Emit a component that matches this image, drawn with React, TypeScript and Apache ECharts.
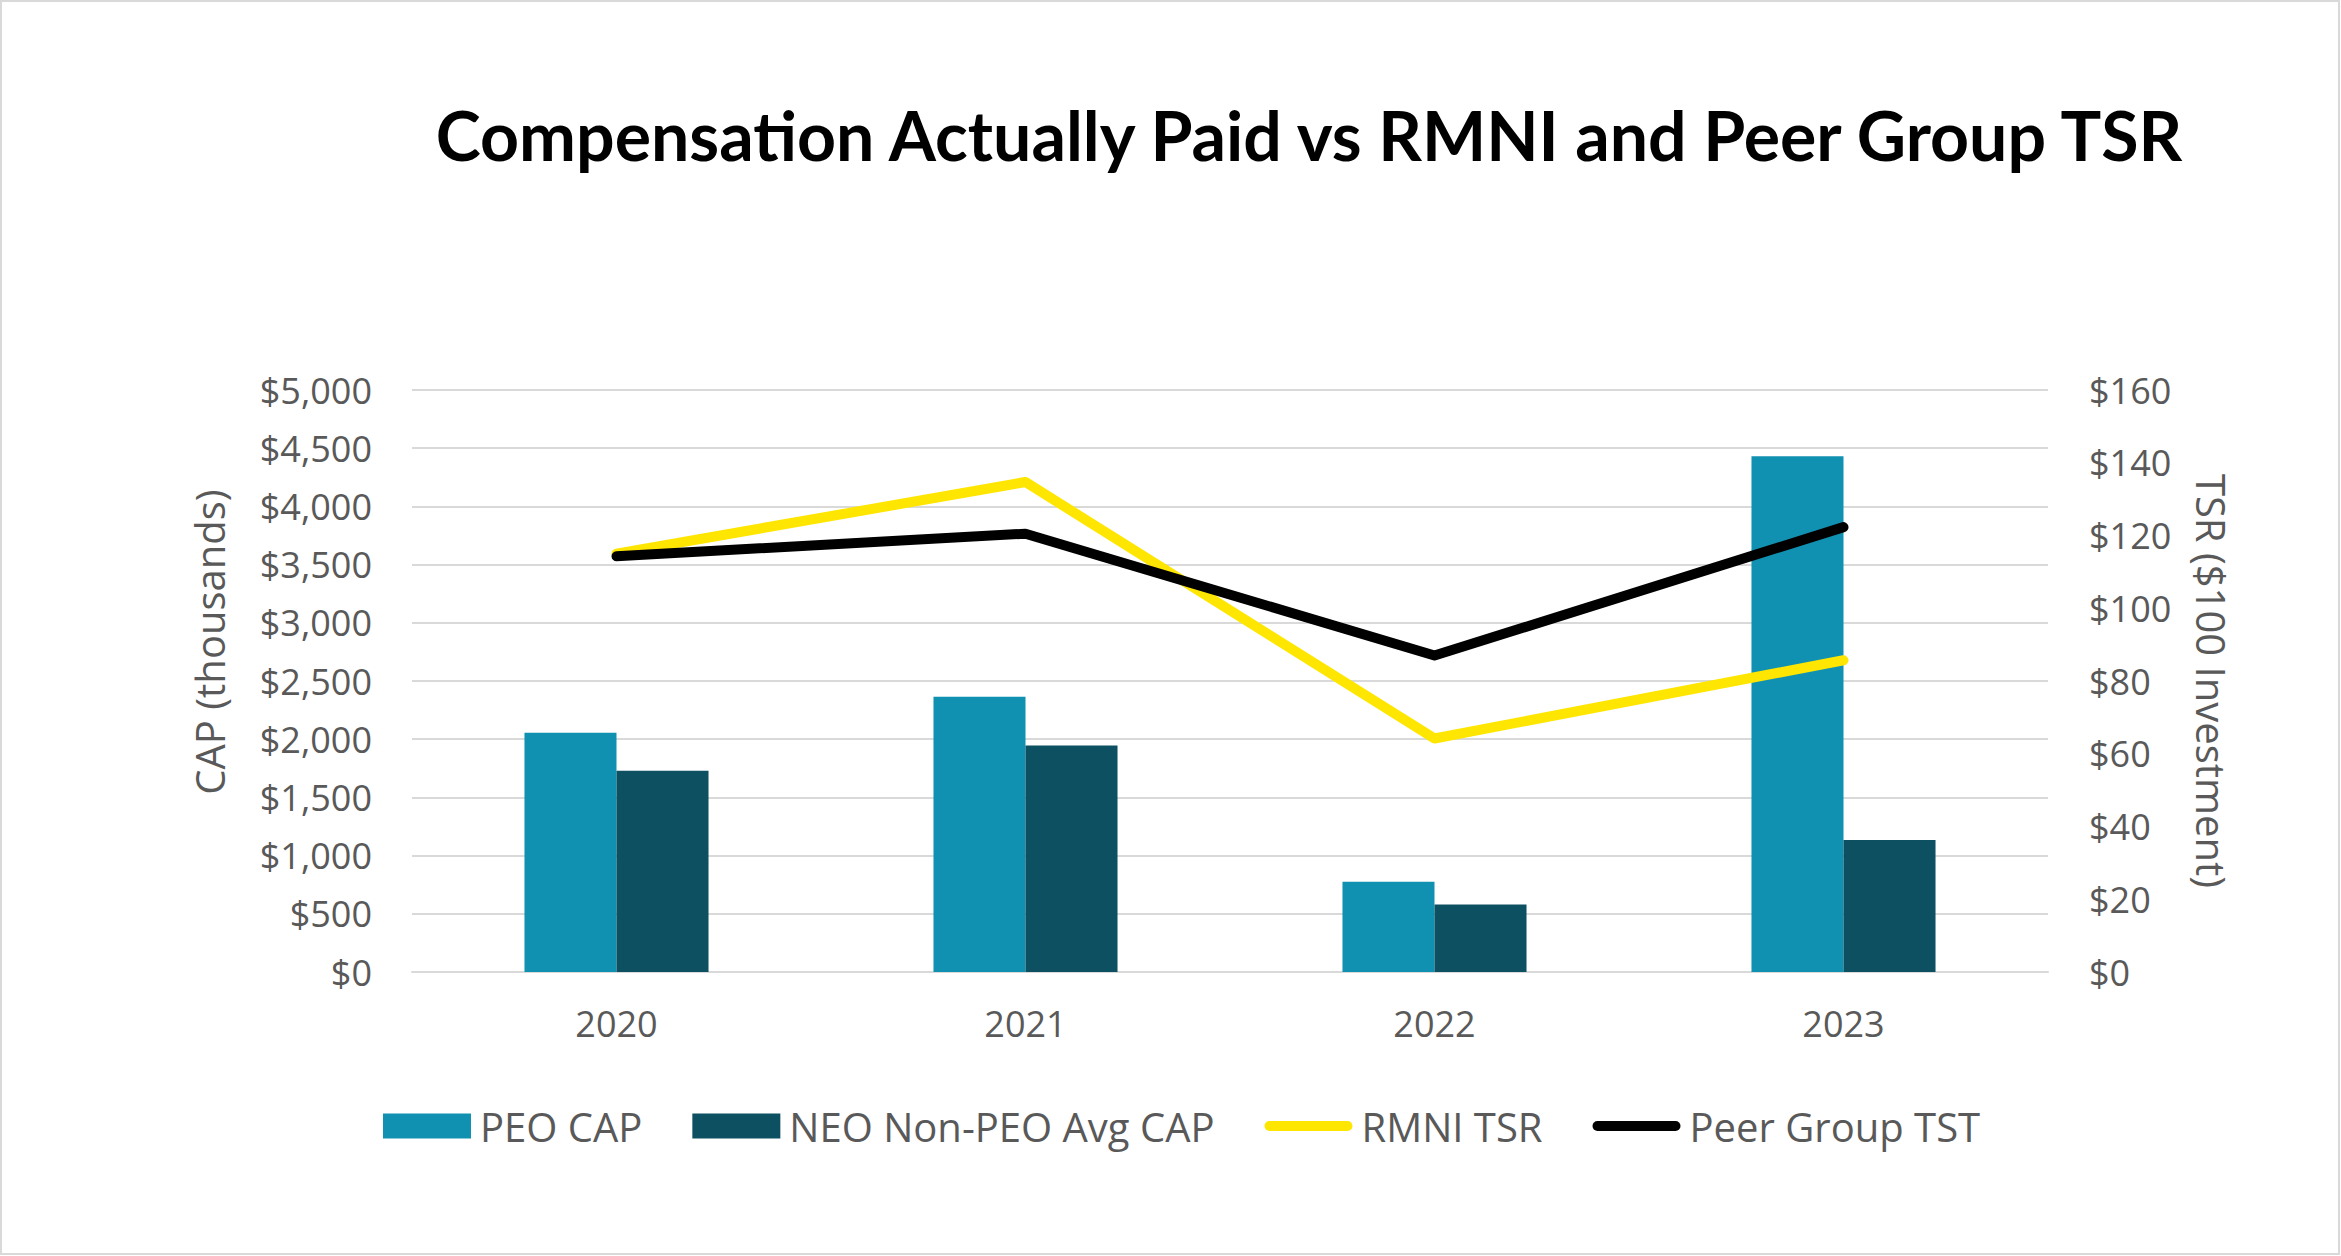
import React, { useEffect, useRef } from "react";
import * as echarts from "echarts";

const years = ["2020", "2021", "2022", "2023"];
const peoCap = [2055, 2365, 775, 4430];
const neoCap = [1730, 1945, 580, 1135];
const rmniTsr = [115, 134.7, 64.2, 85.7];
const peerTsr = [114.3, 120.5, 87, 122.3];

const seriesNames = ["PEO CAP", "NEO Non-PEO Avg CAP", "RMNI TSR", "Peer Group TST"];
const colors = ["#1191B1", "#0D5062", "#FFE600", "#000000"];

const lineIcon = "path://M5,0 H83 A5,5 0 0 1 83,10 H5 A5,5 0 0 1 5,0 Z";
const FONT = "'Open Sans', 'Noto Sans', sans-serif";
const GRAY = "#595959";

const money = (v: number) => "$" + v.toLocaleString("en-US");

export default function App() {
  const ref = useRef<HTMLDivElement>(null);
  useEffect(() => {
    if (!ref.current) return;
    const chart = echarts.init(ref.current, null, { renderer: "svg" });
    chart.setOption({
      animation: false,
      backgroundColor: "#ffffff",
      grid: { left: 412, right: 293, top: 390, bottom: 284, containLabel: false },
      legend: {
        left: 378,
        top: 1101,
        itemWidth: 88,
        itemHeight: 25,
        itemGap: 50,
        textStyle: { color: GRAY, fontSize: 40, fontFamily: FONT, padding: [0, 0, 0, 4] },
        data: [
          { name: seriesNames[0], icon: "rect" },
          { name: seriesNames[1], icon: "rect" },
          { name: seriesNames[2], icon: lineIcon, itemStyle: { color: colors[2] } },
          { name: seriesNames[3], icon: lineIcon, itemStyle: { color: colors[3] } },
        ],
      },
      xAxis: {
        type: "category",
        data: years,
        boundaryGap: true,
        axisLine: { show: true, lineStyle: { color: "#D9D9D9", width: 2 } },
        axisTick: { show: false },
        axisLabel: { color: GRAY, fontSize: 36, fontFamily: FONT, margin: 33, lineHeight: 36 },
      },
      yAxis: [
        {
          type: "value",
          min: 0,
          max: 5000,
          interval: 500,
          axisLine: { show: false },
          axisTick: { show: false },
          splitLine: { show: true, lineStyle: { color: "#D9D9D9", width: 2 } },
          axisLabel: { color: GRAY, fontSize: 36, fontFamily: FONT, margin: 40, formatter: money },
        },
        {
          type: "value",
          min: 0,
          max: 160,
          interval: 20,
          position: "right",
          axisLine: { show: false },
          axisTick: { show: false },
          splitLine: { show: false },
          axisLabel: { color: GRAY, fontSize: 36, fontFamily: FONT, margin: 41, formatter: money },
        },
      ],
      series: [
        {
          name: seriesNames[0],
          type: "bar",
          data: peoCap,
          itemStyle: { color: colors[0] },
          barGap: "0%",
          barCategoryGap: "55%",
        },
        {
          name: seriesNames[1],
          type: "bar",
          data: neoCap,
          itemStyle: { color: colors[1] },
          barGap: "0%",
          barCategoryGap: "55%",
        },
        {
          name: seriesNames[2],
          type: "line",
          yAxisIndex: 1,
          data: rmniTsr,
          symbol: "none",
          itemStyle: { color: colors[2] },
          lineStyle: { color: colors[2], width: 10, cap: "round", join: "round" },
          z: 3,
        },
        {
          name: seriesNames[3],
          type: "line",
          yAxisIndex: 1,
          data: peerTsr,
          symbol: "none",
          itemStyle: { color: colors[3] },
          lineStyle: { color: colors[3], width: 10, cap: "round", join: "round" },
          z: 4,
        },
      ],
      graphic: [
        {
          type: "rect",
          shape: { x: 1, y: 1, width: 2338, height: 1253 },
          style: { fill: "none", stroke: "#D9D9D9", lineWidth: 2 },
          silent: true,
        },
        {
          type: "text",
          x: 1309,
          y: 134,
          style: {
            text: "Compensation Actually Paid vs RMNI and Peer Group TSR",
            fontSize: 68,
            fontWeight: "bold",
            fontFamily: "Lato, 'Open Sans', sans-serif",
            fill: "#000000",
            textAlign: "center",
            textVerticalAlign: "middle",
          },
        },
        {
          type: "text",
          x: 209,
          y: 642,
          rotation: Math.PI / 2,
          style: {
            text: "CAP (thousands)",
            fontSize: 40,
            fontFamily: FONT,
            fill: GRAY,
            textAlign: "center",
            textVerticalAlign: "middle",
          },
        },
        {
          type: "text",
          x: 2211,
          y: 681,
          rotation: -Math.PI / 2,
          style: {
            text: "TSR ($100 Investment)",
            fontSize: 40,
            fontFamily: FONT,
            fill: GRAY,
            textAlign: "center",
            textVerticalAlign: "middle",
          },
        },
      ],
    });
    return () => chart.dispose();
  }, []);
  return (
    <div
      ref={ref}
      style={{ position: "fixed", left: 0, top: 0, width: 2341, height: 1256, background: "#fff" }}
    />
  );
}
